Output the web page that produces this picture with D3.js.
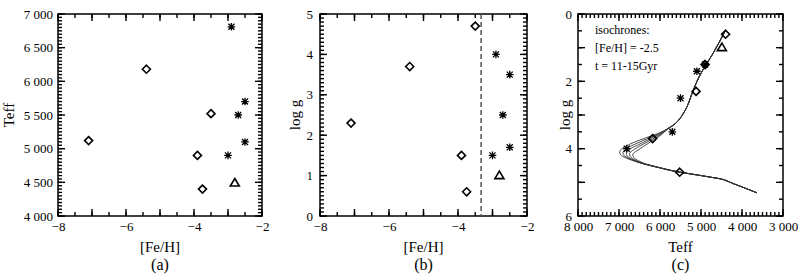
<!DOCTYPE html>
<html>
<head>
<meta charset="UTF-8">
<script src="https://d3js.org/d3.v7.min.js"></script>
<style>
  body { margin: 0; background: #fff; }
  svg { display: block; font-family: "Liberation Serif", "Times New Roman", serif; }
  svg text { font-family: "Liberation Serif", "Times New Roman", serif; fill: #000; }
</style>
</head>
<body>
<svg width="800" height="280"></svg>
<script>
// stars, one array per marker type
const diamondFeH  = [-7.1, -5.4, -3.5, -3.9, -3.75];
const diamondTeff = [5120, 6180, 5520, 4900, 4400];
const diamondLogg = [2.3, 3.7, 4.7, 1.5, 0.6];

const starFeH  = [-2.9, -2.5, -2.7, -2.5, -3.0];
const starTeff = [6810, 5700, 5500, 5100, 4900];
const starLogg = [4.0, 3.5, 2.5, 1.7, 1.5];

const triFeH  = [-2.8];
const triTeff = [4490];
const triLogg = [1.0];

const dashedFeH = -3.33;

// isochrones [Teff, log g]; giant branch and lower MS are shared
const rgbBranch = [[4420,0.52],[4560,0.85],[4720,1.2],[4900,1.55],[5060,1.9],[5200,2.3],[5340,2.75],[5480,3.05],[5620,3.25],[5800,3.4]];
const turnoff11 = [[6050,3.55],[6350,3.68],[6650,3.82],[6880,3.96],[6980,4.08],[6960,4.18],[6820,4.28],[6550,4.4],[6250,4.5],[5900,4.6]];
const turnoff12 = [[6030,3.56],[6300,3.70],[6580,3.85],[6800,3.98],[6900,4.1],[6880,4.2],[6740,4.3],[6480,4.42],[6200,4.51],[5880,4.6]];
const turnoff13 = [[6010,3.57],[6260,3.72],[6520,3.88],[6720,4.0],[6820,4.12],[6800,4.22],[6660,4.33],[6420,4.44],[6150,4.52],[5860,4.61]];
const turnoff14 = [[5990,3.58],[6220,3.74],[6460,3.9],[6640,4.03],[6740,4.14],[6720,4.24],[6590,4.35],[6360,4.46],[6100,4.54],[5840,4.62]];
const turnoff15 = [[5970,3.59],[6180,3.76],[6400,3.93],[6560,4.06],[6660,4.16],[6640,4.26],[6510,4.37],[6300,4.47],[6050,4.55],[5820,4.63]];
const lowerMS = [[5600,4.68],[5200,4.76],[4800,4.84],[4450,4.92],[4250,5.02],[3950,5.16],[3640,5.31]];

// axis labels
const feTicks = [-8, -6, -4, -2];
const teffTicksA = [4000, 4500, 5000, 5500, 6000, 6500, 7000];
const loggTicksB = [0, 1, 2, 3, 4, 5];
const teffTicksC = [8000, 7000, 6000, 5000, 4000, 3000];
const loggTicksC = [0, 2, 4, 6];
const isoNotes = ["isochrones:", "[Fe/H] = -2.5", "t = 11-15Gyr"];

const svg = d3.select("svg");
const fmtK = d3.formatLocale({decimal: ".", thousands: " ", grouping: [3], currency: ["", ""], minus: "-"}).format(",");
const fmtN = d3.format("d");

const diamondPath = "M0,-4L4,0L0,4L-4,0Z";
const starPath = "M-3.8,0H3.8M0,-3.8V3.8M-3,-3L3,3M-3,3L3,-3";
const triPath = "M0,-4.5L4.5,3L-4.5,3Z";

function labels(g, axis, transform, size) {
  const a = g.append("g").attr("transform", transform).call(axis);
  a.attr("font-family", null).attr("font-size", null);
  a.select(".domain").remove();
  a.selectAll("text").style("font-size", size);
}

// frame with inward ticks on all four sides
function frame(x, y, o) {
  const x0 = d3.min(x.range()), x1 = d3.max(x.range());
  const y0 = d3.min(y.range()), y1 = d3.max(y.range());
  const g = svg.append("g");
  const xt = o.xMinor.map(v => [v, 4]).concat(o.xMajor.map(v => [v, 7]));
  const yt = o.yMinor.map(v => [v, 4]).concat(o.yMajor.map(v => [v, 7]));
  const tg = g.append("g").attr("stroke", "#000").attr("stroke-width", 1.4);
  [[y1, -1], [y0, 1]].forEach(([p, dir]) => {
    tg.append("g").selectAll("line").data(xt).join("line")
      .attr("x1", d => x(d[0])).attr("x2", d => x(d[0]))
      .attr("y1", p).attr("y2", d => p + dir * d[1]);
  });
  [[x0, 1], [x1, -1]].forEach(([p, dir]) => {
    tg.append("g").selectAll("line").data(yt).join("line")
      .attr("y1", d => y(d[0])).attr("y2", d => y(d[0]))
      .attr("x1", p).attr("x2", d => p + dir * d[1]);
  });
  g.append("rect").attr("x", x0).attr("y", y0).attr("width", x1 - x0).attr("height", y1 - y0)
    .attr("fill", "none").attr("stroke", "#000").attr("stroke-width", 1.5);
  labels(g, d3.axisBottom(x).tickValues(o.xLabels).tickSize(0).tickPadding(6).tickFormat(o.fx),
    `translate(0,${y1})`, "13px");
  labels(g, d3.axisLeft(y).tickValues(o.yLabels).tickSize(0).tickPadding(o.yPad).tickFormat(o.fy),
    `translate(${x0},0)`, "13px");
  // titles
  g.append("text").attr("x", (x0 + x1) / 2).attr("y", 252).attr("text-anchor", "middle")
    .style("font-size", "15px").text(o.xTitle);
  g.append("text").attr("transform", `translate(${o.yTitleX},${(y0 + y1) / 2}) rotate(-90)`)
    .attr("text-anchor", "middle").style("font-size", "15px").text(o.yTitle);
  g.append("text").attr("x", (x0 + x1) / 2).attr("y", 270).attr("text-anchor", "middle")
    .style("font-size", "16px").text(o.caption);
}

function points(xs, ys, x, y, path, sw) {
  svg.append("g").selectAll("path").data(xs.map((v, i) => [v, ys[i]])).join("path")
    .attr("d", path)
    .attr("transform", d => `translate(${x(d[0])},${y(d[1])})`)
    .attr("fill", "none").attr("stroke", "#000").attr("stroke-width", sw);
}

function allPoints(xd, xs, xt, yd, ys, yt, x, y) {
  points(xd, yd, x, y, diamondPath, 1.6);
  points(xs, ys, x, y, starPath, 1.3);
  points(xt, yt, x, y, triPath, 1.6);
}

// (a)
const xa = d3.scaleLinear().domain([-8, -2]).range([58, 262]);
const ya = d3.scaleLinear().domain([4000, 7000]).range([216, 14]);
frame(xa, ya, {
  xMinor: d3.range(-8, -1.9, 0.5), xMajor: d3.range(-8, -1.9, 1), xLabels: feTicks, fx: fmtN,
  yMinor: d3.range(4000, 7001, 50), yMajor: teffTicksA, yLabels: teffTicksA, fy: fmtK, yPad: 5,
  xTitle: "[Fe/H]", yTitle: "Teff", yTitleX: 14, caption: "(a)"
});
allPoints(diamondFeH, starFeH, triFeH, diamondTeff, starTeff, triTeff, xa, ya);

// (b)
const xb = d3.scaleLinear().domain([-8, -2]).range([320, 527]);
const yb = d3.scaleLinear().domain([0, 5]).range([216, 14]);
frame(xb, yb, {
  xMinor: d3.range(-8, -1.9, 0.5), xMajor: d3.range(-8, -1.9, 1), xLabels: feTicks, fx: fmtN,
  yMinor: d3.range(0, 5.01, 0.1), yMajor: loggTicksB, yLabels: loggTicksB, fy: fmtN, yPad: 7,
  xTitle: "[Fe/H]", yTitle: "log g", yTitleX: 300, caption: "(b)"
});
svg.append("line").attr("x1", xb(dashedFeH)).attr("x2", xb(dashedFeH)).attr("y1", yb(5)).attr("y2", yb(0))
  .attr("stroke", "#555").attr("stroke-width", 1.5).attr("stroke-dasharray", "5,3");
allPoints(diamondFeH, starFeH, triFeH, diamondLogg, starLogg, triLogg, xb, yb);

// (c)
const xc = d3.scaleLinear().domain([8000, 3000]).range([578, 783]);
const yc = d3.scaleLinear().domain([0, 6]).range([14, 216]);
frame(xc, yc, {
  xMinor: d3.range(3000, 8001, 100), xMajor: teffTicksC, xLabels: teffTicksC, fx: fmtK,
  yMinor: d3.range(0, 6.01, 0.5), yMajor: d3.range(0, 6.01, 1), yLabels: loggTicksC, fy: fmtN, yPad: 6,
  xTitle: "Teff", yTitle: "log g", yTitleX: 570, caption: "(c)"
});
const line = d3.line().x(d => xc(d[0])).y(d => yc(d[1])).curve(d3.curveCatmullRom.alpha(0.5));
[turnoff11, turnoff12, turnoff13, turnoff14, turnoff15].forEach(t => {
  svg.append("path").datum(rgbBranch.concat(t, lowerMS)).attr("d", line)
    .attr("fill", "none").attr("stroke", "#333").attr("stroke-width", 0.9);
});
allPoints(diamondTeff, starTeff, triTeff, diamondLogg, starLogg, triLogg, xc, yc);
svg.append("g").selectAll("text").data(isoNotes).join("text")
  .attr("x", 595).attr("y", (d, i) => 34 + i * 18)
  .style("font-size", "12px").text(d => d);
</script>
</body>
</html>
